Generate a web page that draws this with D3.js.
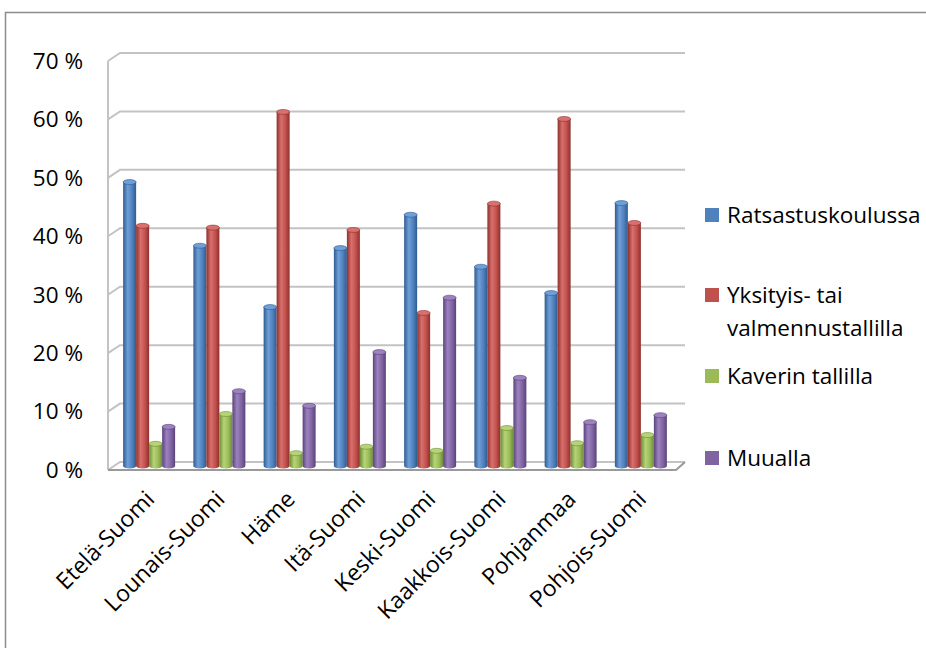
<!DOCTYPE html>
<html>
<head>
<meta charset="UTF-8">
<script src="https://cdn.jsdelivr.net/npm/d3@7"></script>
<style>
  body { margin: 0; background: #fff; }
  svg text { font-family: "Open Sans", Lato, sans-serif; fill: #000; }
  .grid { stroke: #c3c3c3; stroke-width: 2; fill: none; }
  .floor { stroke: #9a9a9a; stroke-width: 2; fill: none; }
</style>
</head>
<body>
<script>
// data
var regions = ["Etelä-Suomi", "Lounais-Suomi", "Häme", "Itä-Suomi", "Keski-Suomi", "Kaakkois-Suomi", "Pohjanmaa", "Pohjois-Suomi"];
var seriesNames = ["Ratsastuskoulussa", "Yksityis- tai valmennustallilla", "Kaverin tallilla", "Muualla"];
var ratsastuskoulussa = [48.6, 37.7, 27.2, 37.3, 43.0, 34.1, 29.6, 45.0];
var yksityis = [41.1, 40.8, 60.6, 40.4, 26.2, 44.9, 59.4, 41.6];
var kaverin = [3.8, 8.9, 2.2, 3.3, 2.6, 6.5, 3.9, 5.3];
var muualla = [6.7, 12.8, 10.3, 19.5, 28.8, 15.1, 7.5, 8.7];
var yTicks = [0, 10, 20, 30, 40, 50, 60, 70];

var values = [ratsastuskoulussa, yksityis, kaverin, muualla];
var colors = ["#4f81bd", "#c0504d", "#9bbb59", "#8064a2"];
var darks = ["#2f5b8f", "#8e2f2c", "#6e8c33", "#5a4379"];
var lights = ["#6f9fd8", "#d9706d", "#b5d477", "#9c82c0"];

var W = 926, H = 648;
var svg = d3.select("body").append("svg")
    .attr("width", W)
    .attr("height", H);

// chart border
svg.append("path")
    .attr("d", "M5.5," + H + " L5.5,12.5 L" + W + ",12.5")
    .attr("fill", "none")
    .attr("stroke", "#8c8c8c")
    .attr("stroke-width", 1.5);

// scales (bar plane sits midway between front and back wall)
var y = d3.scaleLinear().domain([0, 70]).range([466, 57]);
var x = d3.scaleBand().domain(regions).range([114, 676]).paddingInner(0.26).paddingOuter(0.13);
var xs = d3.scaleBand().domain(d3.range(4)).range([0, x.bandwidth()]);

var dx = 6, dy = 4;       // half depth
var leftX = 114 - dx, rightX = 676 + dx;

// back wall gridlines + side wall
var g = svg.append("g");
yTicks.forEach(function(t) {
    var yb = y(t) - dy, yf = y(t) + dy;
    g.append("path").attr("class", "grid")
        .attr("d", "M" + leftX + "," + yf + " L" + (leftX + 2 * dx) + "," + yb + " L" + (rightX + dx * 0.5) + "," + yb);
});
g.append("line").attr("class", "grid")
    .attr("x1", leftX).attr("x2", leftX)
    .attr("y1", y(70) + dy).attr("y2", y(0) + dy);

// floor front edge
g.append("path").attr("class", "floor")
    .attr("d", "M" + leftX + "," + (y(0) + dy) + " L" + (rightX - dx) + "," + (y(0) + dy) + " L" + (rightX + dx * 0.5) + "," + (y(0) - dy));

// gradients for cylinders
var defs = svg.append("defs");
colors.forEach(function(c, i) {
    var lg = defs.append("linearGradient").attr("id", "cyl" + i)
        .attr("x1", "0%").attr("x2", "100%").attr("y1", "0%").attr("y2", "0%");
    lg.append("stop").attr("offset", "0%").attr("stop-color", darks[i]);
    lg.append("stop").attr("offset", "35%").attr("stop-color", lights[i]);
    lg.append("stop").attr("offset", "70%").attr("stop-color", c);
    lg.append("stop").attr("offset", "100%").attr("stop-color", darks[i]);
});

// bars
var ry = 2.5;
regions.forEach(function(r, ci) {
    values.forEach(function(vals, si) {
        var x0 = x(r) + xs(si), w = xs.bandwidth();
        var top = y(vals[ci]), bot = y(0);
        var bar = svg.append("g");
        bar.append("path")
            .attr("d", "M" + x0 + "," + top + " L" + x0 + "," + bot +
                " A" + (w / 2) + "," + ry + " 0 0 0 " + (x0 + w) + "," + bot +
                " L" + (x0 + w) + "," + top + " Z")
            .attr("fill", "url(#cyl" + si + ")");
        bar.append("ellipse")
            .attr("cx", x0 + w / 2).attr("cy", top)
            .attr("rx", w / 2).attr("ry", ry)
            .attr("fill", lights[si])
            .attr("stroke", darks[si]).attr("stroke-width", 0.6);
    });
});

// y tick labels
svg.selectAll(".ylab").data(yTicks).enter().append("text")
    .attr("x", 83)
    .attr("y", function(d) { return y(d) + dy; })
    .attr("dy", "0.35em")
    .attr("text-anchor", "end")
    .style("font-size", "22.5px")
    .text(function(d) { return d + " %"; });

// x labels
svg.selectAll(".xlab").data(regions).enter().append("text")
    .attr("transform", function(d) {
        return "translate(" + (x(d) + x.bandwidth() / 2 + 1) + "," + 495 + ") rotate(-45)";
    })
    .attr("text-anchor", "end")
    .attr("dy", "0.35em")
    .style("font-size", "23px")
    .text(function(d) { return d; });

// legend
var legY = [215, 295, 376, 458];
var legLines = [["Ratsastuskoulussa"], ["Yksityis- tai", "valmennustallilla"], ["Kaverin tallilla"], ["Muualla"]];
seriesNames.forEach(function(s, i) {
    svg.append("rect")
        .attr("x", 705).attr("y", legY[i] - 7)
        .attr("width", 14).attr("height", 14)
        .attr("fill", colors[i]);
    legLines[i].forEach(function(line, li) {
        svg.append("text")
            .attr("x", 727)
            .attr("y", legY[i] + li * 33)
            .attr("dy", "0.35em")
            .style("font-size", "22.5px")
            .text(line);
    });
});
</script>
</body>
</html>
